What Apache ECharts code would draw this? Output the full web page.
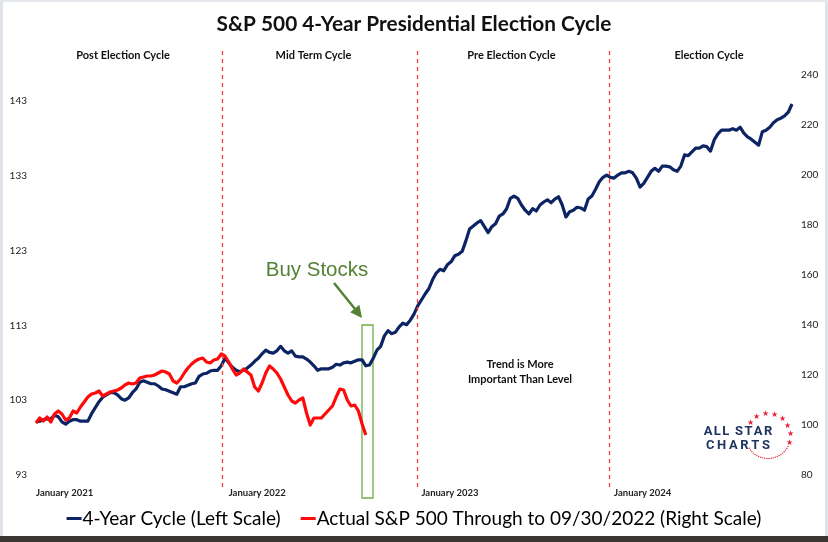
<!DOCTYPE html>
<html><head><meta charset="utf-8">
<script src="https://cdn.jsdelivr.net/npm/echarts/dist/echarts.min.js"></script>
<style>html,body{margin:0;padding:0;background:#fff}#c{width:828px;height:542px}</style>
</head><body><div id="c"></div>
<script>
// x unit = week since the start of January 2021
const xTickLabels = ['January 2021', 'January 2022', 'January 2023', 'January 2024'];
const cycleSections = ['Post Election Cycle', 'Mid Term Cycle', 'Pre Election Cycle', 'Election Cycle'];
const dividers = [50.2, 102.8, 154.6];
const cycleName = '4-Year Cycle (Left Scale)';
const actualName = 'Actual S&P 500 Through to 09/30/2022 (Right Scale)';
// 4-Year Cycle (left scale), weekly
const cycleValues = [
  100.1,100.2,100.4,100.5,100.5,101.0,100.8,100.1,99.8,100.2,
  100.4,100.4,100.2,100.2,100.2,101.2,102.0,102.8,103.4,103.7,
  104.0,104.0,103.7,103.2,103.0,103.3,104.0,104.5,105.4,105.6,
  105.4,105.2,105.2,104.9,104.5,104.4,104.2,104.0,103.8,104.8,
  104.8,105.0,105.2,105.3,106.2,106.5,106.6,106.9,107.0,107.0,
  107.6,108.6,108.0,107.4,107.0,106.8,107.0,107.3,107.7,108.2,
  108.6,109.2,109.7,109.4,109.3,109.6,110.2,109.6,109.3,109.6,
  108.9,108.8,108.8,108.5,108.1,107.6,107.0,107.2,107.2,107.2,
  107.4,107.8,107.7,108.0,108.1,108.0,108.2,108.4,108.4,107.6,
  107.7,108.6,109.7,110.2,111.6,112.3,111.9,112.1,112.8,113.3,
  113.1,113.7,114.5,115.6,116.4,117.2,117.9,119.1,120.0,120.5,
  120.3,121.1,121.5,122.3,122.5,122.9,124.3,125.9,126.3,126.7,
  127.0,126.2,125.4,126.2,126.6,127.6,127.9,128.6,130.0,130.3,
  130.0,129.1,128.4,127.9,128.6,128.3,129.1,129.5,129.8,129.4,
  129.9,130.2,129.1,127.5,128.2,128.4,128.8,128.7,128.4,129.9,
  130.3,131.2,132.2,132.8,133.1,132.8,132.7,133.1,133.4,133.4,
  133.6,133.4,132.7,131.5,132.0,132.8,133.6,134.0,133.6,134.3,
  134.3,134.2,133.8,133.6,134.3,135.8,135.7,136.2,136.7,136.7,
  137.0,136.9,136.3,137.8,138.6,139.1,139.1,139.1,139.3,139.1,
  139.5,138.7,138.2,137.9,137.5,137.1,138.9,139.1,139.5,140.1,
  140.5,140.7,141.0,141.5,142.6
];
// Actual S&P 500 (right scale), weekly through 09/30/2022
const actualValues = [
  100.8,102.8,101.6,103.2,101.2,104.4,105.6,104.4,102.0,102.8,
  105.6,104.8,107.2,109.2,111.2,112.4,112.8,113.6,111.6,112.4,
  113.2,113.6,114.0,114.8,116.0,116.8,116.4,116.8,118.8,119.2,
  119.6,119.6,120.0,120.8,121.6,121.2,120.4,117.6,116.8,118.4,
  120.8,122.8,124.4,125.6,126.4,126.8,125.2,124.8,126.0,126.4,
  128.4,127.6,125.2,122.4,120.0,120.8,122.4,121.2,120.0,115.2,
  113.6,116.8,120.8,123.6,122.4,120.8,118.4,115.2,112.0,109.6,
  108.8,110.0,110.8,104.8,100.0,102.8,102.8,102.8,104.4,106.0,
  107.6,111.2,114.4,114.0,110.0,107.6,108.0,105.6,100.4,96.0
];

const chart = echarts.init(document.getElementById('c'));
const F = 'Lato';
const navy = '#0c2463';
const red = '#ff0a0a';
const green = '#548235';

const graphic = [
  {type:'rect', shape:{x:0,y:0,width:3,height:542}, style:{fill:'#dfe4ea'}, silent:true},
  {type:'rect', shape:{x:825,y:0,width:3,height:542}, style:{fill:'#dfe4ea'}, silent:true},
  {type:'rect', shape:{x:0,y:0,width:828,height:2}, style:{fill:'#e4e7eb'}, silent:true},
  {type:'rect', shape:{x:0,y:536,width:828,height:6}, style:{fill:'#3b3531'}, silent:true},
  {type:'text', x:414, y:24, style:{text:'S&P 500 4-Year Presidential Election Cycle', align:'center', verticalAlign:'middle', fontFamily:F, fontWeight:'bold', fontSize:20.8, fill:'#111'}},
  {type:'text', x:520, y:364, style:{text:'Trend is More', align:'center', verticalAlign:'middle', fontFamily:F, fontWeight:'bold', fontSize:11, fill:'#111'}},
  {type:'text', x:520, y:379, style:{text:'Important Than Level', align:'center', verticalAlign:'middle', fontFamily:F, fontWeight:'bold', fontSize:11, fill:'#111'}},
  {type:'text', x:317, y:270, style:{text:'Buy Stocks', align:'center', verticalAlign:'middle', fontFamily:'Liberation Sans', fontSize:20.5, fill:green}},
  {type:'line', shape:{x1:334,y1:283,x2:355,y2:309}, style:{stroke:green, lineWidth:2.5}},
  {type:'polygon', shape:{points:[[350.2,312.2],[359.4,304.8],[362,318]]}, style:{fill:green}},
  {type:'rect', shape:{x:362,y:325,width:11,height:173}, style:{fill:'none', stroke:'#70ad47', lineWidth:1.3}},
  {type:'text', x:738, y:432, style:{text:'A\u200AL\u200AL\u2009 S\u200AT\u200AA\u200AR', align:'center', verticalAlign:'middle', fontFamily:'Roboto', fontWeight:'bold', fontSize:13, fill:'#1f3560'}},
  {type:'text', x:738, y:446, style:{text:'C\u2009H\u2009A\u2009R\u2009T\u2009S', align:'center', verticalAlign:'middle', fontFamily:'Roboto', fontWeight:'bold', fontSize:13, fill:'#1f3560'}}
];
const sectionX = [123, 313.5, 511.5, 709];
cycleSections.forEach((s, i) => graphic.push({type:'text', x:sectionX[i], y:55, style:{text:s, align:'center', verticalAlign:'middle', fontFamily:F, fontWeight:'bold', fontSize:11, fill:'#111'}}));
// logo stars and dots around a circle
for (let k = 0; k < 8; k++) {
  const a = (-143 + k * 23) * Math.PI / 180;
  graphic.push({type:'text', x:768 + 22.5 * Math.cos(a), y:436 + 22.5 * Math.sin(a), style:{text:'\u2605', align:'center', verticalAlign:'middle', fontSize:8, fill:'#e8253a'}});
}
for (let k = 0; k <= 22; k++) {
  const a = (28 + k * 5.4) * Math.PI / 180;
  graphic.push({type:'circle', shape:{cx:768 + 22.5 * Math.cos(a), cy:436 + 22.5 * Math.sin(a), r:0.7}, style:{fill:'#e8253a'}});
}

const option = {
  animation: false,
  backgroundColor: '#fff',
  grid: [
    {left:36, right:36, top:75, bottom:67},
    {left:36, right:36, top:48, bottom:55}
  ],
  xAxis: [
    {type:'value', gridIndex:0, min:0, max:204, interval:52,
     splitLine:{show:false}, axisLine:{show:false}, axisTick:{show:false},
     axisLabel:{showMaxLabel:false, align:'left', margin:13, fontSize:9.5, fontWeight:'bold', fontFamily:F, color:'#222',
       formatter: v => xTickLabels[v / 52] || ''}},
    {type:'value', gridIndex:1, min:0, max:204, show:false}
  ],
  yAxis: [
    {type:'value', gridIndex:0, position:'left', min:93, max:146.48, interval:10,
     splitLine:{show:false}, axisLine:{show:false}, axisTick:{show:false},
     axisLabel:{showMaxLabel:false, margin:9, fontSize:10, fontFamily:F, color:'#222'}},
    {type:'value', gridIndex:0, position:'right', min:80, max:240, interval:20,
     splitLine:{show:false}, axisLine:{show:false}, axisTick:{show:false},
     axisLabel:{margin:9, fontSize:10, fontFamily:F, color:'#222'}},
    {type:'value', gridIndex:1, min:0, max:1, show:false}
  ],
  legend: {
    data:[cycleName, actualName], top:504, left:'center', icon:'rect', itemWidth:15, itemHeight:3, itemGap:20,
    textStyle:{fontSize:19, fontFamily:F, color:'#000', padding:[0,0,0,-4]}
  },
  series: [
    {name:cycleName, type:'line', xAxisIndex:0, yAxisIndex:0, showSymbol:false, symbol:'none',
     data: cycleValues.map((v, i) => [i, v]), itemStyle:{color:navy}, lineStyle:{color:navy, width:3.2, join:'round'}, z:3},
    {name:actualName, type:'line', xAxisIndex:0, yAxisIndex:1, showSymbol:false, symbol:'none',
     data: actualValues.map((v, i) => [i, v]), itemStyle:{color:red}, lineStyle:{color:red, width:3.2, join:'round'}, z:4},
    {type:'line', xAxisIndex:1, yAxisIndex:2, data:[], silent:true,
     markLine:{symbol:'none', silent:true, label:{show:false},
       lineStyle:{color:'#ff3b3b', type:[4,4], width:1.3},
       data: dividers.map(d => ({xAxis:d}))}}
  ],
  graphic: graphic
};
chart.setOption(option);
</script></body></html>
